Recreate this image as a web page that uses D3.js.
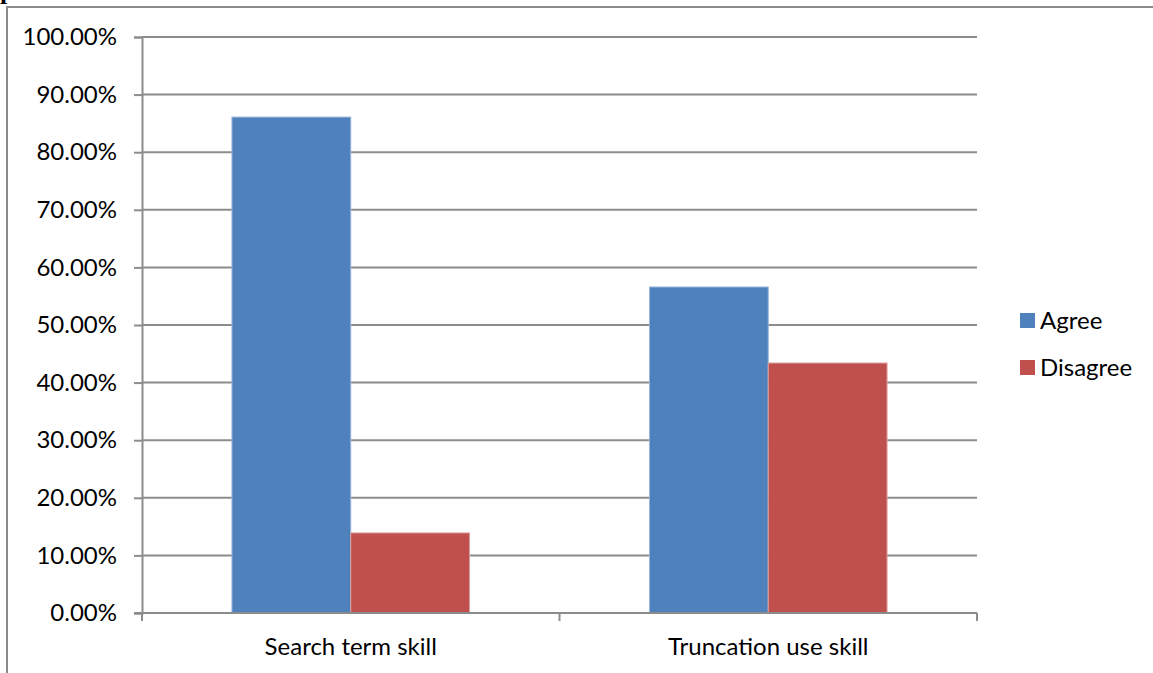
<!DOCTYPE html>
<html>
<head>
<meta charset="utf-8">
<script src="https://cdn.jsdelivr.net/npm/d3@7"></script>
<style>
  html, body { margin: 0; padding: 0; background: #fff; }
  svg { display: block; }
  text { font-family: Lato, "Open Sans", sans-serif; fill: #000; }
</style>
</head>
<body>
<svg id="chart" width="1153" height="673"></svg>
<script>
// Survey results: share of respondents per skill
const categories = ["Search term skill", "Truncation use skill"];
const seriesNames = ["Agree", "Disagree"];
const agree = [0.861, 0.566];
const disagree = [0.139, 0.434];
const yTicks = [0, 0.1, 0.2, 0.3, 0.4, 0.5, 0.6, 0.7, 0.8, 0.9, 1.0];
const colors = ["#4F81BD", "#C0504D"];

const svg = d3.select("#chart");
const W = 1153, H = 673;

// outer frame of the chart object (cropped at right and bottom)
svg.append("path")
  .attr("d", `M7,${H + 5} V7 H${W + 5}`)
  .attr("fill", "none")
  .attr("stroke", "#8a8a8a")
  .attr("stroke-width", 2);

// fragment of the heading glyph above the frame
svg.append("text")
  .attr("x", 0).attr("y", -1)
  .style("font-family", "'Liberation Serif', serif")
  .style("font-weight", "bold")
  .style("font-size", "26px")
  .text("p");

const plot = { left: 142, right: 977, top: 37, bottom: 613 };

const x0 = d3.scaleBand()
  .domain(categories)
  .range([plot.left, plot.right])
  .paddingInner(0)
  .paddingOuter(0);

const x1 = d3.scaleBand()
  .domain(seriesNames)
  .range([0, x0.bandwidth()])
  .paddingOuter(0.757);

const y = d3.scaleLinear().domain([0, 1]).range([plot.bottom, plot.top]);

// horizontal gridlines
svg.append("g")
  .selectAll("line")
  .data(yTicks.filter(d => d > 0))
  .join("line")
  .attr("x1", plot.left).attr("x2", plot.right)
  .attr("y1", d => y(d)).attr("y2", d => y(d))
  .attr("stroke", "#8c8c8c")
  .attr("stroke-width", 2);

// bars
const rows = categories.map((c, i) => ({ cat: c, values: [agree[i], disagree[i]] }));
const groups = svg.append("g")
  .selectAll("g")
  .data(rows)
  .join("g")
  .attr("transform", d => `translate(${x0(d.cat)},0)`);

groups.selectAll("rect")
  .data(d => d.values.map((v, j) => ({ key: seriesNames[j], v, j })))
  .join("rect")
  .attr("x", d => x1(d.key))
  .attr("width", x1.bandwidth())
  .attr("y", d => y(d.v))
  .attr("height", d => y(0) - y(d.v))
  .attr("fill", d => colors[d.j])
  .attr("stroke", d => d.j === 0 ? "#9bb7dc" : "#dba0a0")
  .attr("stroke-width", 1);

// y axis
const yAxis = d3.axisLeft(y)
  .tickValues(yTicks)
  .tickFormat(d => (d * 100).toFixed(2) + "%")
  .tickSize(8)
  .tickPadding(17);

const gy = svg.append("g")
  .attr("transform", `translate(${plot.left},0)`)
  .call(yAxis);
gy.select(".domain").attr("stroke", "#8c8c8c").attr("stroke-width", 2);
gy.selectAll(".tick line").attr("stroke", "#8c8c8c").attr("stroke-width", 2);
gy.selectAll(".tick text")
  .style("font-size", "24px")
  .style("font-family", "Lato, 'Open Sans', sans-serif")
  .attr("fill", "#000");

// x axis with ticks at category boundaries
const boundaries = [plot.left, ...categories.map(c => x0(c) + x0.bandwidth())];
svg.append("line")
  .attr("x1", plot.left - 8).attr("x2", plot.right)
  .attr("y1", plot.bottom).attr("y2", plot.bottom)
  .attr("stroke", "#8c8c8c").attr("stroke-width", 2);
svg.append("g")
  .selectAll("line")
  .data(boundaries)
  .join("line")
  .attr("x1", d => d).attr("x2", d => d)
  .attr("y1", plot.bottom).attr("y2", plot.bottom + 8)
  .attr("stroke", "#8c8c8c").attr("stroke-width", 2);

svg.append("g")
  .selectAll("text")
  .data(categories)
  .join("text")
  .attr("x", d => x0(d) + x0.bandwidth() / 2)
  .attr("y", 655)
  .attr("text-anchor", "middle")
  .style("font-size", "24px")
  .text(d => d);

// legend
const legend = svg.append("g")
  .selectAll("g")
  .data(seriesNames)
  .join("g")
  .attr("transform", (d, i) => `translate(1020,${313 + i * 47})`);
legend.append("rect")
  .attr("width", 15).attr("height", 15)
  .attr("fill", (d, i) => colors[i]);
legend.append("text")
  .attr("x", 20).attr("y", 16)
  .style("font-size", "24px")
  .text(d => d);
</script>
</body>
</html>
